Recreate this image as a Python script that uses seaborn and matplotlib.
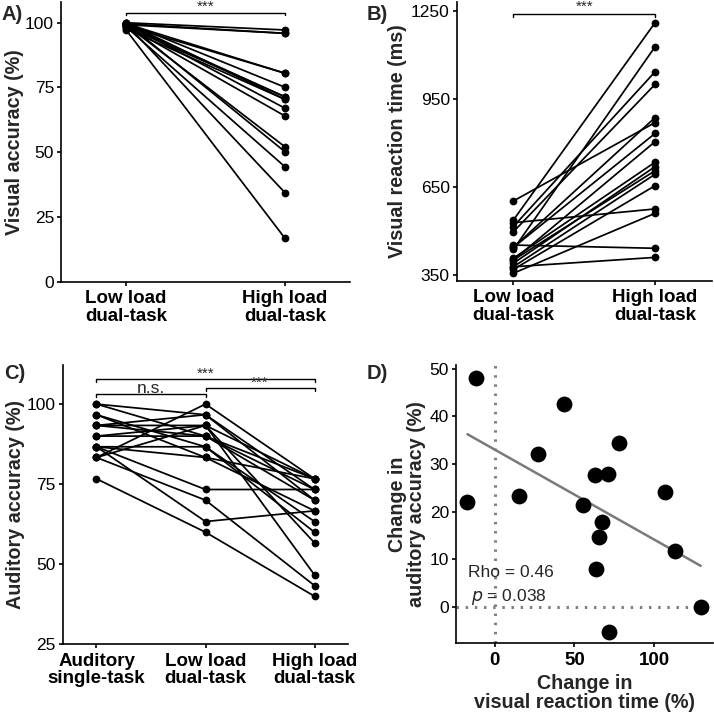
import numpy as np
import pandas as pd
import matplotlib
matplotlib.use("Agg")
import matplotlib.pyplot as plt
import seaborn as sns

# ---------------- data ----------------
vis_conditions = ["Low load\ndual-task", "High load\ndual-task"]
aud_conditions = ["Auditory\nsingle-task", "Low load\ndual-task", "High load\ndual-task"]

# Panel A: visual accuracy (%)
acc_low = [100, 99.6, 99.2, 98.8, 99.6, 100, 98.4, 99.2, 97.6, 100, 99.6, 98.8, 99.2, 100, 98.4, 99.6, 97.2]
acc_high = [97.2, 95.9, 95.9, 80.5, 80.5, 75.1, 71.4, 71.4, 70.4, 70.4, 67.0, 64.0, 52.1, 50.2, 44.4, 34.4, 16.8]

# Panel B: visual reaction time (ms)
rt_low = [602, 537, 528, 515, 497, 452, 444, 437, 444, 407, 401, 390, 401, 378, 369, 356, 378]
rt_high = [869, 1209, 575, 1042, 999, 441, 886, 1127, 832, 734, 804, 719, 705, 693, 654, 560, 410]

# Panel C: auditory accuracy (%)
aud_single = [100, 96.67, 93.33, 93.33, 90, 86.67, 86.67, 86.67, 83.33, 83.33, 76.67, 83.33, 96.67, 93.33, 90, 100, 86.67]
aud_low = [96.67, 86.67, 93.33, 90, 90, 86.67, 73.33, 63.33, 100, 93.33, 60, 70, 83.33, 96.67, 93.33, 90, 83.33]
aud_high = [70, 63.33, 76.67, 73.33, 76.67, 60, 73.33, 66.67, 76.67, 56.67, 40, 43.33, 76.67, 73.33, 46.67, 70, 66.67]

# Panel D: change scores (%)
d_rt_change = [-11.6, 43.7, 77.9, 27.5, 62.8, 71.0, -17.0, 15.3, 106.9, 55.2, 67.4, 65.7, 113.2, 63.4, 129.2, 71.6]
d_aud_change = [48.1, 42.7, 34.4, 32.0, 27.7, 27.9, 22.1, 23.2, 24.0, 21.4, 17.8, 14.7, 11.6, 7.9, 0.0, -5.3]

# ---------------- style ----------------
sns.set_style("ticks")
plt.rcParams["font.family"] = ["Liberation Sans", "DejaVu Sans"]
plt.rcParams["axes.linewidth"] = 1.2
plt.rcParams["xtick.major.width"] = 1.2
plt.rcParams["ytick.major.width"] = 1.2
plt.rcParams["xtick.major.size"] = 3
plt.rcParams["ytick.major.size"] = 3
plt.rcParams["ytick.major.pad"] = 2
plt.rcParams["xtick.major.pad"] = 3
plt.rcParams["xtick.color"] = "black"
plt.rcParams["ytick.color"] = "black"
plt.rcParams["axes.edgecolor"] = "black"

fig = plt.figure(figsize=(7.14, 7.15), dpi=100)
W, H = 714, 715
def box(l, t, r, b):
    return [l / W, 1 - b / H, (r - l) / W, (b - t) / H]

axA = fig.add_axes(box(61, 2, 350, 281.7))
axB = fig.add_axes(box(456.7, 2, 711.7, 281))
axC = fig.add_axes(box(62.7, 365, 348.3, 644.3))
axD = fig.add_axes(box(456, 365, 713, 643.3))

TICK = 12.5
XT = 13.5
LAB = 14.2
LW = 1.25
MS = 5.6

def paired(ax, cols, conds):
    n = len(cols[0])
    rows = []
    for i in range(n):
        for j, c in enumerate(cols):
            rows.append({"pid": i, "cond": j, "val": c[i]})
    df = pd.DataFrame(rows)
    sns.lineplot(data=df, x="cond", y="val", units="pid", estimator=None,
                 color="black", lw=LW, marker="o", markersize=MS,
                 markeredgewidth=0, ax=ax, legend=False)
    ax.set_xticks(range(len(conds)))
    ax.set_xticklabels(conds, fontsize=XT, fontweight="bold", linespacing=1.05)
    ax.set_xlabel("")
    sns.despine(ax=ax)

def bracket(ax, x0, x1, y, drop, label, ty, fs=11):
    ax.plot([x0, x0, x1, x1], [y - drop, y, y, y - drop], color="black", lw=1.0, clip_on=False)
    ax.text((x0 + x1) / 2, ty, label, ha="center", va="center", fontsize=fs, clip_on=False)

# Panel A
paired(axA, [acc_low, acc_high], vis_conditions)
axA.set_xlim(-0.41, 1.41)
axA.set_ylim(0, 108)
axA.set_yticks([0, 25, 50, 75, 100])
axA.tick_params(axis="y", labelsize=TICK)
axA.set_ylabel("Visual accuracy (%)", fontsize=LAB, fontweight="bold", labelpad=1)
bracket(axA, 0, 1, 103.9, 1.0, "***", 106.2)

# Panel B
paired(axB, [rt_low, rt_high], vis_conditions)
axB.set_xlim(-0.4, 1.4)
axB.set_ylim(329.6, 1279.6)
axB.set_yticks([350, 650, 950, 1250])
axB.tick_params(axis="y", labelsize=TICK)
axB.set_ylabel("Visual reaction time (ms)", fontsize=LAB, fontweight="bold", labelpad=3)
bracket(axB, 0, 1, 1238.8, 9, "***", 1262)

# Panel C
paired(axC, [aud_single, aud_low, aud_high], aud_conditions)
axC.set_xlim(-0.31, 2.31)
axC.set_ylim(25, 112.2)
axC.set_yticks([25, 50, 75, 100])
axC.tick_params(axis="y", labelsize=TICK)
axC.set_ylabel("Auditory accuracy (%)", fontsize=LAB, fontweight="bold", labelpad=1)
bracket(axC, 0, 2, 107.8, 0.9, "***", 109.6)
bracket(axC, 0, 1, 103.0, 0.9, "n.s.", 104.9, fs=12.5)
bracket(axC, 1, 2, 104.9, 0.9, "***", 106.7)

# Panel D
axD.axvline(0, color="#808080", lw=2.2, ls=(0, (0.8, 2.2)), zorder=0)
axD.axhline(0, color="#808080", lw=2.2, ls=(0, (0.8, 2.2)), zorder=0)
dfD = pd.DataFrame({"rt": d_rt_change, "aud": d_aud_change})
sns.regplot(data=dfD, x="rt", y="aud", ci=None, ax=axD,
            scatter_kws={"s": 130, "color": "black", "linewidths": 0, "alpha": 1, "zorder": 3},
            line_kws={"color": "#7a7a7a", "lw": 1.8, "zorder": 2})
axD.set_xlim(-24.2, 136.9)
axD.set_ylim(-7.7, 50.8)
axD.set_xticks([0, 50, 100])
axD.set_yticks([0, 10, 20, 30, 40, 50])
axD.tick_params(axis="y", labelsize=TICK)
axD.tick_params(axis="x", labelsize=XT)
for t in axD.get_xticklabels():
    t.set_fontweight("bold")
axD.set_xlabel("Change in\nvisual reaction time (%)", fontsize=LAB, fontweight="bold", linespacing=1.0)
axD.set_ylabel("Change in\nauditory accuracy (%)", fontsize=LAB, fontweight="bold", linespacing=1.0, labelpad=3)
axD.text(-16.8, 7.2, "Rho = 0.46", fontsize=12.5, ha="left", va="center")
axD.text(-14.5, 2.1, r"$\mathit{p}$ = 0.038", fontsize=12.5, ha="left", va="center")
sns.despine(ax=axD)

# panel letters
for lab, x, y in [("A)", 2, 14), ("B)", 367, 15), ("C)", 4, 373), ("D)", 367, 373)]:
    fig.text(x / W, 1 - y / H, lab, fontsize=14.5, fontweight="bold", ha="left", va="center")

fig.savefig("out.png", dpi=100)
